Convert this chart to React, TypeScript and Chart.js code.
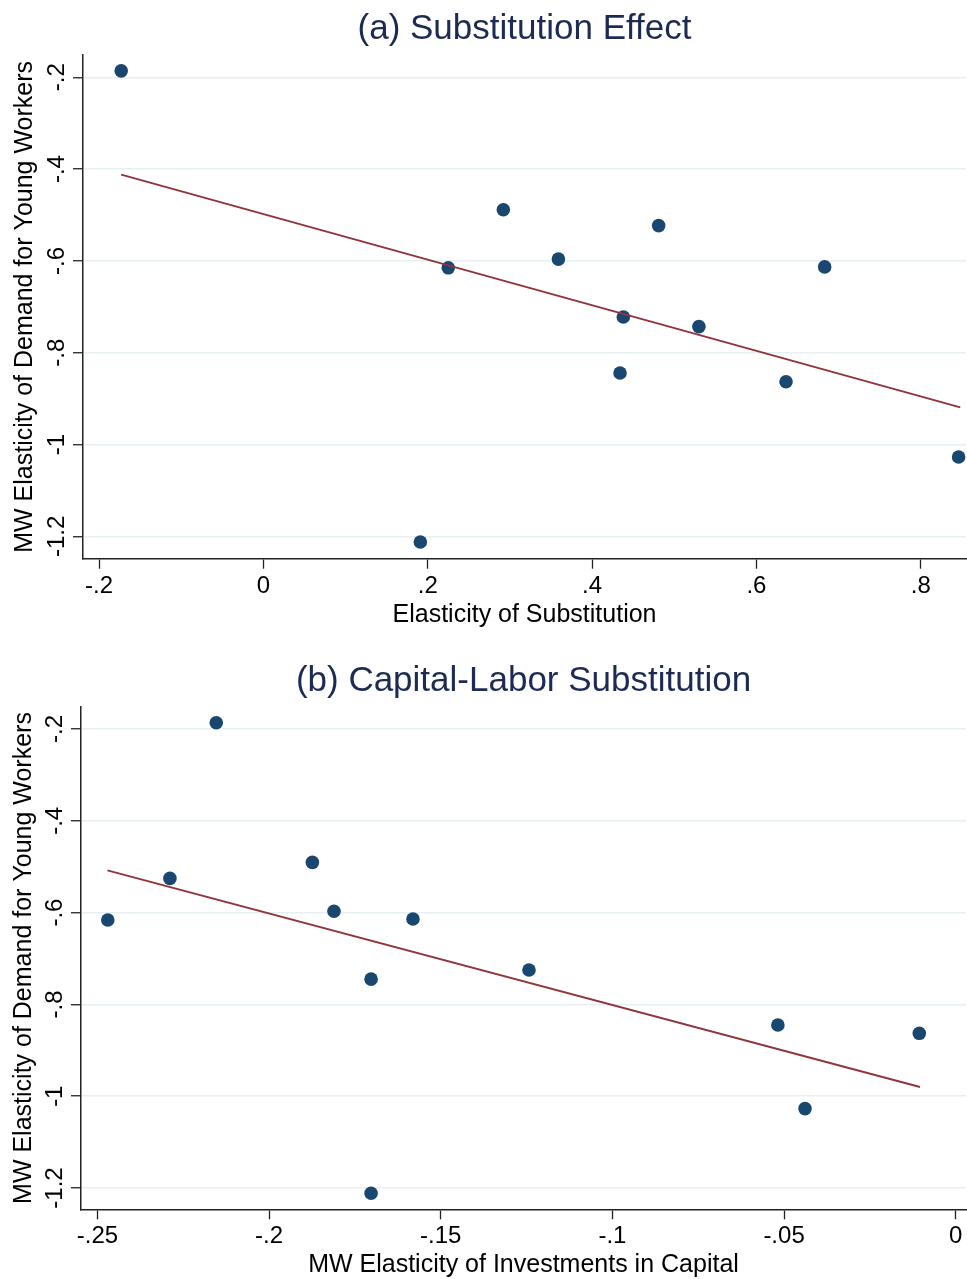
import React, { useEffect, useRef } from "react";
import { Chart, registerables } from "chart.js";

Chart.register(...registerables);

// ---------- Data ----------
// Panel (a): Substitution Effect
const subsX = [-0.173, 0.225, 0.292, 0.359, 0.481, 0.683, 0.438, 0.53, 0.434, 0.636, 0.846, 0.191];
const subsY = [-0.186, -0.615, -0.4885, -0.596, -0.523, -0.613, -0.722, -0.743, -0.844, -0.863, -1.027, -1.212];
const subsFitX = [-0.173, 0.848];
const subsFitY = [-0.412, -0.919];

// Panel (b): Capital-Labor Substitution
const capX = [-0.247, -0.2289, -0.2154, -0.1874, -0.1811, -0.1581, -0.1703, -0.1243, -0.0518, -0.0106, -0.0439, -0.1703];
const capY = [-0.616, -0.5255, -0.1863, -0.4906, -0.597, -0.614, -0.745, -0.725, -0.845, -0.863, -1.027, -1.2115];
const capFitX = [-0.2471, -0.0104];
const capFitY = [-0.508, -0.98];

// Ticks
const yTickValues = [-1.2, -1, -0.8, -0.6, -0.4, -0.2];
const yTickLabels = ["-1.2", "-1", "-.8", "-.6", "-.4", "-.2"];
const xTickValuesA = [-0.2, 0, 0.2, 0.4, 0.6, 0.8];
const xTickLabelsA = ["-.2", "0", ".2", ".4", ".6", ".8"];
const xTickValuesB = [-0.25, -0.2, -0.15, -0.1, -0.05, 0];
const xTickLabelsB = ["-.25", "-.2", "-.15", "-.1", "-.05", "0"];

const titleA = "(a) Substitution Effect";
const titleB = "(b) Capital-Labor Substitution";
const xTitleA = "Elasticity of Substitution";
const xTitleB = "MW Elasticity of Investments in Capital";
const yTitle = "MW Elasticity of Demand for Young Workers";

// ---------- Styles ----------
const FONT = '"Liberation Sans", Arial, Helvetica, sans-serif';
const NAVY = "#1a476f";
const MAROON = "#90353b";
const TITLE_COLOR = "#1d2b52";
const GRID = "#e6eff1";

type PanelSpec = {
  title: string;
  xTitle: string;
  xs: number[];
  ys: number[];
  fitX: number[];
  fitY: number[];
  xTicks: number[];
  xLabels: string[];
  xMin: number;
  xMax: number;
  yMin: number;
  yMax: number;
  titlePad: { top: number; bottom: number };
  yTitlePad: { top: number; bottom: number };
  xTitlePad: { top: number; bottom: number };
  layoutBottom: number;
};

function makeConfig(p: PanelSpec): any {
  return {
    type: "scatter",
    data: {
      datasets: [
        {
          label: "fit",
          data: p.fitX.map((x, i) => ({ x, y: p.fitY[i] })),
          showLine: true,
          borderColor: MAROON,
          borderWidth: 2,
          pointRadius: 0,
          fill: false,
          clip: false,
        },
        {
          label: "points",
          data: p.xs.map((x, i) => ({ x, y: p.ys[i] })),
          backgroundColor: NAVY,
          borderColor: NAVY,
          borderWidth: 0,
          pointRadius: 6.8,
          clip: false,
        },
      ],
    },
    options: {
      animation: false,
      responsive: false,
      devicePixelRatio: 1,
      layout: { autoPadding: false, padding: { left: 0, right: 1, top: 0, bottom: p.layoutBottom } },
      plugins: {
        legend: { display: false },
        tooltip: { enabled: false },
        title: {
          display: true,
          text: p.title,
          fullSize: false,
          color: TITLE_COLOR,
          font: { family: FONT, size: 35, weight: "normal", lineHeight: 1.2 },
          padding: p.titlePad,
        },
      },
      scales: {
        x: {
          type: "linear",
          min: p.xMin,
          max: p.xMax,
          afterBuildTicks: (scale: any) => {
            scale.ticks = p.xTicks.map((v) => ({ value: v }));
          },
          ticks: {
            callback: (_v: any, i: number) => p.xLabels[i],
            color: "#000",
            font: { family: FONT, size: 24 },
            padding: 3,
            maxRotation: 0,
            minRotation: 0,
            autoSkip: false,
          },
          grid: {
            display: true,
            drawOnChartArea: false,
            drawTicks: true,
            tickLength: 10,
            tickColor: "#222",
            tickWidth: 1.3,
          },
          border: { display: true, color: "#222", width: 1.5 },
          title: {
            display: true,
            text: p.xTitle,
            color: "#000",
            font: { family: FONT, size: 25, lineHeight: 1.0 },
            padding: p.xTitlePad,
          },
        },
        y: {
          type: "linear",
          min: p.yMin,
          max: p.yMax,
          afterBuildTicks: (scale: any) => {
            scale.ticks = yTickValues.map((v) => ({ value: v }));
          },
          ticks: {
            callback: (_v: any, i: number) => yTickLabels[i],
            color: "#000",
            font: { family: FONT, size: 24 },
            padding: -5.2,
            minRotation: 90,
            maxRotation: 90,
            crossAlign: "center",
            autoSkip: false,
          },
          grid: {
            display: true,
            drawOnChartArea: true,
            drawTicks: true,
            tickLength: 10,
            color: GRID,
            lineWidth: 1.5,
            tickColor: "#222",
            tickWidth: 1.3,
          },
          border: { display: true, color: "#222", width: 1.5 },
          title: {
            display: true,
            text: yTitle,
            color: "#000",
            font: { family: FONT, size: 25, lineHeight: 1.2 },
            padding: p.yTitlePad,
          },
        },
      },
    },
  };
}

function Panel({ spec, height }: { spec: PanelSpec; height: number }) {
  const ref = useRef<HTMLCanvasElement | null>(null);
  useEffect(() => {
    if (!ref.current) return;
    const chart = new Chart(ref.current, makeConfig(spec));
    return () => chart.destroy();
  }, [spec]);
  return (
    <canvas
      ref={ref}
      width={967}
      height={height}
      style={{ display: "block", width: 967, height }}
    />
  );
}

const specA: PanelSpec = {
  title: titleA,
  xTitle: xTitleA,
  xs: subsX,
  ys: subsY,
  fitX: subsFitX,
  fitY: subsFitY,
  xTicks: xTickValuesA,
  xLabels: xTickLabelsA,
  xMin: -0.2195,
  xMax: 0.855,
  yMin: -1.2485,
  yMax: -0.1515,
  titlePad: { top: 8, bottom: 5 },
  yTitlePad: { top: 10.5, bottom: 14.1 },
  xTitlePad: { top: -1, bottom: 1 },
  layoutBottom: 23.5,
};

const specB: PanelSpec = {
  title: titleB,
  xTitle: xTitleB,
  xs: capX,
  ys: capY,
  fitX: capFitX,
  fitY: capFitY,
  xTicks: xTickValuesB,
  xLabels: xTickLabelsB,
  xMin: -0.2548,
  xMax: 0.003,
  yMin: -1.2464,
  yMax: -0.1514,
  titlePad: { top: 8.5, bottom: 4.2 },
  yTitlePad: { top: 9.5, bottom: 13.1 },
  xTitlePad: { top: -1.1, bottom: 1 },
  layoutBottom: 0,
};

export default function App() {
  useEffect(() => {
    document.body.style.margin = "0";
    document.body.style.background = "#fff";
  }, []);
  return (
    <div style={{ width: 967, height: 1279, overflow: "hidden", background: "#fff" }}>
      <Panel spec={specA} height={652} />
      <Panel spec={specB} height={627} />
    </div>
  );
}
